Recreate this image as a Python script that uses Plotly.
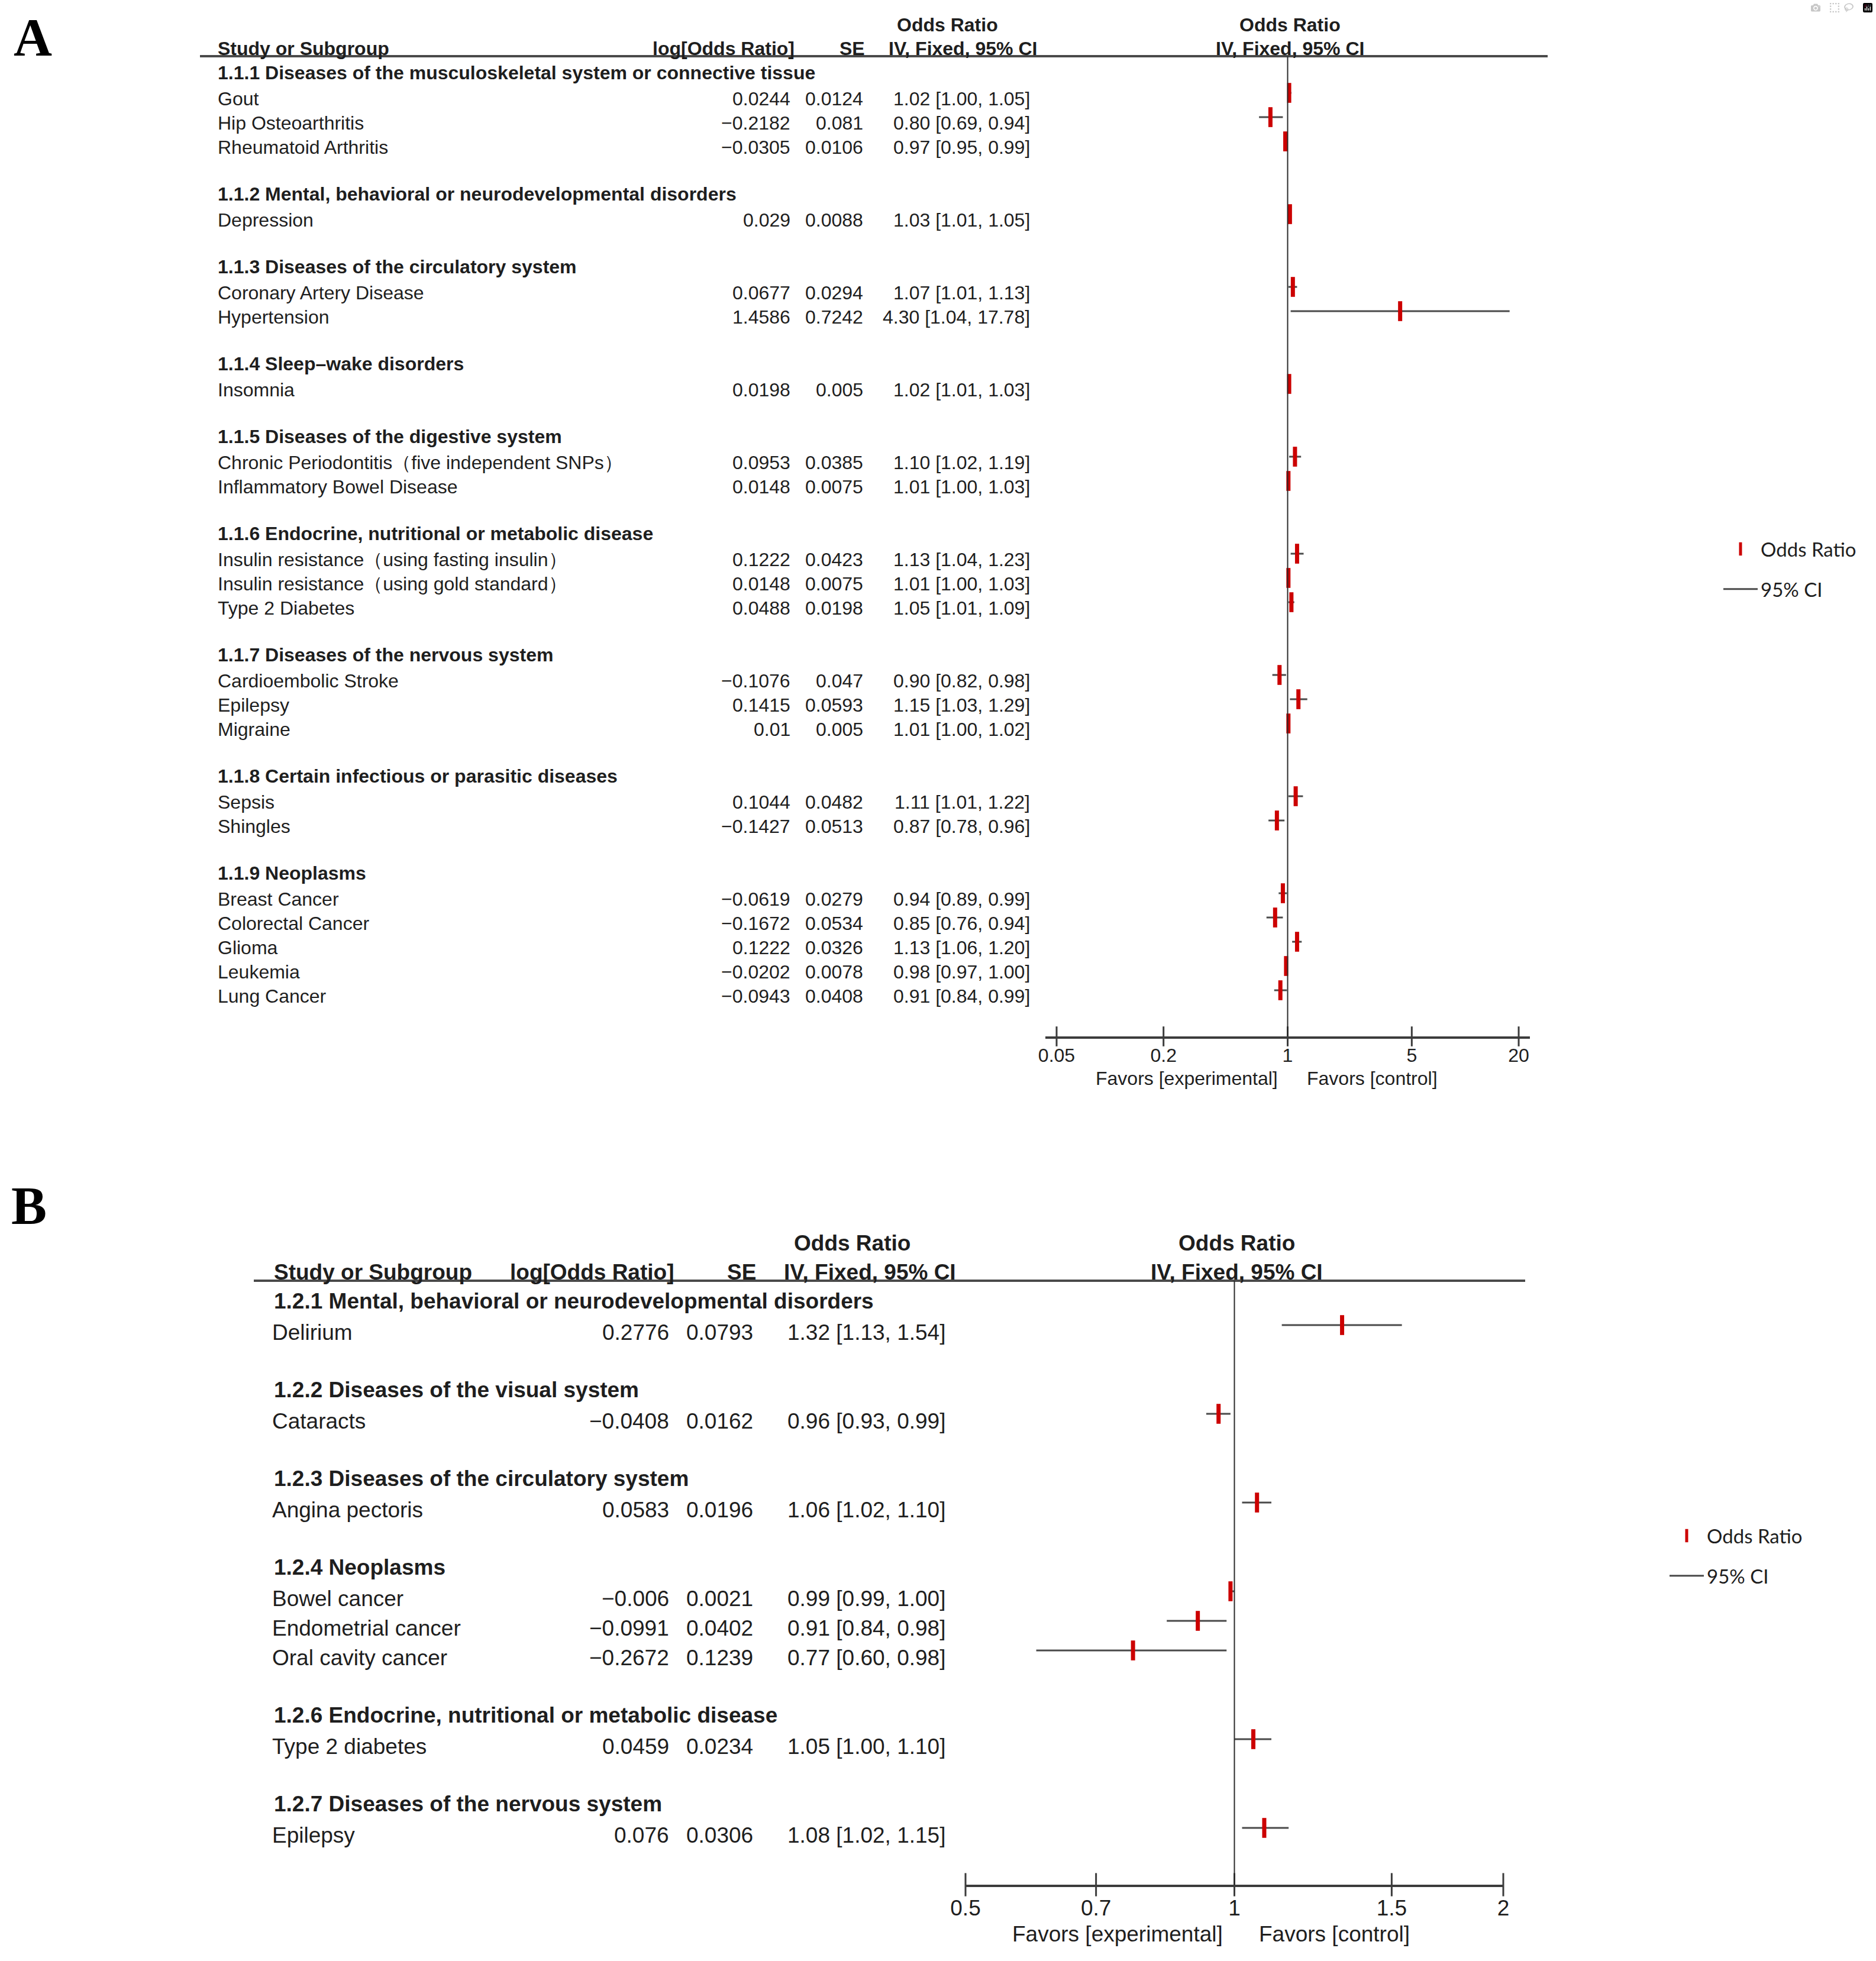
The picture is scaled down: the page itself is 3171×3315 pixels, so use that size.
import math
import plotly.graph_objects as go

# ---------------- Panel A data ----------------
a_groups = [
    "1.1.1 Diseases of the musculoskeletal system or connective tissue",
    "1.1.2 Mental, behavioral or neurodevelopmental disorders",
    "1.1.3 Diseases of the circulatory system",
    "1.1.4 Sleep\u2013wake disorders",
    "1.1.5 Diseases of the digestive system",
    "1.1.6 Endocrine, nutritional or metabolic disease",
    "1.1.7 Diseases of the nervous system",
    "1.1.8 Certain infectious or parasitic diseases",
    "1.1.9 Neoplasms",
]
a_studies = [
    "Gout", "Hip Osteoarthritis", "Rheumatoid Arthritis",
    "Depression",
    "Coronary Artery Disease", "Hypertension",
    "Insomnia",
    "Chronic Periodontitis\uff08five independent SNPs\uff09", "Inflammatory Bowel Disease",
    "Insulin resistance\uff08using fasting insulin\uff09", "Insulin resistance\uff08using gold standard\uff09", "Type 2 Diabetes",
    "Cardioembolic Stroke", "Epilepsy", "Migraine",
    "Sepsis", "Shingles",
    "Breast Cancer", "Colorectal Cancer", "Glioma", "Leukemia", "Lung Cancer",
]
a_study_group = [0, 0, 0, 1, 2, 2, 3, 4, 4, 5, 5, 5, 6, 6, 6, 7, 7, 8, 8, 8, 8, 8]
a_logor = [0.0244, -0.2182, -0.0305, 0.029, 0.0677, 1.4586, 0.0198, 0.0953, 0.0148,
           0.1222, 0.0148, 0.0488, -0.1076, 0.1415, 0.01, 0.1044, -0.1427,
           -0.0619, -0.1672, 0.1222, -0.0202, -0.0943]
a_se = [0.0124, 0.081, 0.0106, 0.0088, 0.0294, 0.7242, 0.005, 0.0385, 0.0075,
        0.0423, 0.0075, 0.0198, 0.047, 0.0593, 0.005, 0.0482, 0.0513,
        0.0279, 0.0534, 0.0326, 0.0078, 0.0408]
a_or = [1.02, 0.80, 0.97, 1.03, 1.07, 4.30, 1.02, 1.10, 1.01, 1.13, 1.01, 1.05,
        0.90, 1.15, 1.01, 1.11, 0.87, 0.94, 0.85, 1.13, 0.98, 0.91]
a_ci_lo = [1.00, 0.69, 0.95, 1.01, 1.01, 1.04, 1.01, 1.02, 1.00, 1.04, 1.00, 1.01,
           0.82, 1.03, 1.00, 1.01, 0.78, 0.89, 0.76, 1.06, 0.97, 0.84]
a_ci_hi = [1.05, 0.94, 0.99, 1.05, 1.13, 17.78, 1.03, 1.19, 1.03, 1.23, 1.03, 1.09,
           0.98, 1.29, 1.02, 1.22, 0.96, 0.99, 0.94, 1.20, 1.00, 0.99]
a_ticks = [0.05, 0.2, 1, 5, 20]
a_tick_labels = ["0.05", "0.2", "1", "5", "20"]

# ---------------- Panel B data ----------------
b_groups = [
    "1.2.1 Mental, behavioral or neurodevelopmental disorders",
    "1.2.2 Diseases of the visual system",
    "1.2.3 Diseases of the circulatory system",
    "1.2.4 Neoplasms",
    "1.2.6 Endocrine, nutritional or metabolic disease",
    "1.2.7 Diseases of the nervous system",
]
b_studies = ["Delirium", "Cataracts", "Angina pectoris", "Bowel cancer",
             "Endometrial cancer", "Oral cavity cancer", "Type 2 diabetes", "Epilepsy"]
b_study_group = [0, 1, 2, 3, 3, 3, 4, 5]
b_logor = [0.2776, -0.0408, 0.0583, -0.006, -0.0991, -0.2672, 0.0459, 0.076]
b_se = [0.0793, 0.0162, 0.0196, 0.0021, 0.0402, 0.1239, 0.0234, 0.0306]
b_or = [1.32, 0.96, 1.06, 0.99, 0.91, 0.77, 1.05, 1.08]
b_ci_lo = [1.13, 0.93, 1.02, 0.99, 0.84, 0.60, 1.00, 1.02]
b_ci_hi = [1.54, 0.99, 1.10, 1.00, 0.98, 0.98, 1.10, 1.15]
b_ticks = [0.5, 0.7, 1, 1.5, 2]
b_tick_labels = ["0.5", "0.7", "1", "1.5", "2"]

# ---------------- layout helpers ----------------
W, H = 3171, 3315
FONT = "Liberation Sans"
TXT = "#1e1e1e"
RED = "#cc0000"
CI_COL = "#4a4a4a"
AX_COL = "#3c3c3c"


def px(x):
    return x / W


def py(y):
    return 1 - y / H


def fmt_num(v):
    return str(v).replace("-", "\u2212")


def build_rows(study_group, ngroups):
    header_rows, study_rows = [], []
    r = 0
    for g in range(ngroups):
        header_rows.append(r)
        r += 1
        for gi in study_group:
            if gi == g:
                study_rows.append(r)
                r += 1
        r += 1
    return header_rows, study_rows


panels = [
    dict(key="A", xa="x", ya="y", xname="xaxis", yname="yaxis", legend="legend",
         groups=a_groups, studies=a_studies, sg=a_study_group, logor=a_logor, se=a_se,
         orv=a_or, lo=a_ci_lo, hi=a_ci_hi, ticks=a_ticks, ticklabels=a_tick_labels,
         row0=116, step=41, top=95, bottom=1752, xdom=(1767, 2586), tickpad=0.0632,
         fs=32, label_x=366, group_x=366, logor_r=1338, se_r=1461, ci_r=1743,
         h_y1=42, h_y2=82, h_or_c=1602, h_log_r=1345, h_se_r=1464, h_iv_c=1627,
         h_right_c=2180, hline=(338, 2616), fav_y=1823, fav_c=(2006, 2319),
         letter=(55, 63), text_shift=-10, head_shift=-7, tick_half=24, ticklen=1,
         marker_size=24, legend_xy=(2908, 900)),
    dict(key="B", xa="x2", ya="y2", xname="xaxis2", yname="yaxis2", legend="legend2",
         groups=b_groups, studies=b_studies, sg=b_study_group, logor=b_logor, se=b_se,
         orv=b_or, lo=b_ci_lo, hi=b_ci_hi, ticks=b_ticks, ticklabels=b_tick_labels,
         row0=2190, step=50, top=2165, bottom=3186, xdom=(1632, 2541), tickpad=0.0,
         fs=37, label_x=458, group_x=461, logor_r=1133, se_r=1275, ci_r=1600,
         h_y1=2101, h_y2=2150, h_or_c=1440, h_log_r=1141, h_se_r=1280, h_iv_c=1470,
         h_right_c=2090, hline=(429, 2578), fav_y=3269, fav_c=(1889, 2255),
         letter=(49, 2038), text_shift=-12, head_shift=-9, tick_half=28, ticklen=4,
         marker_size=24, legend_xy=(2817, 2568)),
]

fig = go.Figure()
annotations = []
shapes = []
layout_axes = {}
legends = {}

for p in panels:
    header_rows, study_rows = build_rows(p["sg"], len(p["groups"]))
    r_top = (p["top"] - p["row0"]) / p["step"]
    r_bot = (p["bottom"] - p["row0"]) / p["step"]
    fs = p["fs"]
    tfont = dict(family=FONT, size=fs, color=TXT)

    # CI lines
    cx, cy = [], []
    for lo, hi, r in zip(p["lo"], p["hi"], study_rows):
        cx += [lo, hi, None]
        cy += [r, r, None]
    fig.add_trace(go.Scatter(
        x=cx, y=cy, mode="lines", xaxis=p["xa"], yaxis=p["ya"],
        line=dict(color=CI_COL, width=3), name="95% CI",
        legend=p["legend"], legendgroup="ci" + p["key"], legendrank=2,
        hoverinfo="skip"))
    # point estimates
    fig.add_trace(go.Scatter(
        x=p["orv"], y=study_rows, mode="markers", xaxis=p["xa"], yaxis=p["ya"],
        marker=dict(symbol="line-ns", size=p["marker_size"],
                    line=dict(color=RED, width=7)),
        name="Odds Ratio", legend=p["legend"], legendgroup="or" + p["key"],
        legendrank=1))
    # tick marks crossing the axis line
    fig.add_trace(go.Scatter(
        x=p["ticks"], y=[r_bot] * len(p["ticks"]), mode="markers",
        xaxis=p["xa"], yaxis=p["ya"], cliponaxis=False, showlegend=False,
        hoverinfo="skip",
        marker=dict(symbol="line-ns", size=p["tick_half"],
                    line=dict(color=AX_COL, width=3))))

    lo_log = math.log10(min(p["ticks"])) - p["tickpad"]
    hi_log = math.log10(max(p["ticks"])) + p["tickpad"]
    layout_axes[p["xname"]] = dict(
        type="log", range=[lo_log, hi_log],
        domain=[px(p["xdom"][0]), px(p["xdom"][1])],
        anchor=p["ya"], showgrid=False, zeroline=False,
        showline=True, linecolor=AX_COL, linewidth=4,
        tickvals=p["ticks"], ticktext=p["ticklabels"],
        ticks="outside", ticklen=p["ticklen"], tickcolor="rgba(0,0,0,0)",
        tickfont=dict(family=FONT, size=fs, color=TXT), fixedrange=True,
        automargin=False)
    layout_axes[p["yname"]] = dict(
        range=[r_bot, r_top], domain=[py(p["bottom"]), py(p["top"])],
        anchor=p["xa"], visible=False, fixedrange=True, automargin=False)

    yref = p["ya"]
    # group headers
    for g, r in zip(p["groups"], header_rows):
        annotations.append(dict(
            text="<b>" + g + "</b>", x=px(p["group_x"]), y=r, xref="paper", yref=yref,
            xanchor="left", yanchor="middle", yshift=p["head_shift"],
            showarrow=False, font=tfont))
    # study rows
    for name, lg, se, o, lo, hi, r in zip(p["studies"], p["logor"], p["se"], p["orv"],
                                          p["lo"], p["hi"], study_rows):
        common = dict(y=r, xref="paper", yref=yref, yanchor="middle",
                      yshift=p["text_shift"], showarrow=False, font=tfont)
        annotations.append(dict(text=name, x=px(p["label_x"]), xanchor="left", **common))
        annotations.append(dict(text=fmt_num(lg), x=px(p["logor_r"]), xanchor="right", **common))
        annotations.append(dict(text=fmt_num(se), x=px(p["se_r"]), xanchor="right", **common))
        annotations.append(dict(text=f"{o:.2f} [{lo:.2f}, {hi:.2f}]", x=px(p["ci_r"]),
                                xanchor="right", **common))

    # column headers
    def hdr(text, x, y, anchor):
        annotations.append(dict(text="<b>" + text + "</b>", x=px(x), y=py(y), xref="paper",
                                yref="paper", xanchor=anchor, yanchor="middle",
                                showarrow=False, font=tfont))

    hdr("Odds Ratio", p["h_or_c"], p["h_y1"], "center")
    hdr("Study or Subgroup", p["label_x"] if p["key"] == "A" else p["group_x"], p["h_y2"], "left")
    hdr("log[Odds Ratio]", p["h_log_r"], p["h_y2"], "right")
    hdr("SE", p["h_se_r"], p["h_y2"], "right")
    hdr("IV, Fixed, 95% CI", p["h_iv_c"], p["h_y2"], "center")
    hdr("Odds Ratio", p["h_right_c"], p["h_y1"], "center")
    hdr("IV, Fixed, 95% CI", p["h_right_c"], p["h_y2"], "center")

    # favours labels
    for text, xc in zip(["Favors [experimental]", "Favors [control]"], p["fav_c"]):
        annotations.append(dict(text=text, x=px(xc), y=py(p["fav_y"]), xref="paper",
                                yref="paper", xanchor="center", yanchor="middle",
                                showarrow=False, font=tfont))
    # panel letter
    annotations.append(dict(text="<b>" + p["key"] + "</b>", x=px(p["letter"][0]),
                            y=py(p["letter"][1]), xref="paper", yref="paper",
                            xanchor="center", yanchor="middle", showarrow=False,
                            font=dict(family="Liberation Serif", size=90, color="#000000")))

    # header rule and null line
    shapes.append(dict(type="line", xref="paper", yref="paper",
                       x0=px(p["hline"][0]), x1=px(p["hline"][1]),
                       y0=py(p["top"]), y1=py(p["top"]),
                       line=dict(color="#4a4a4a", width=4)))
    shapes.append(dict(type="line", xref=p["xa"], yref=p["ya"] + " domain",
                       x0=1, x1=1, y0=0, y1=1, line=dict(color="#2a2a2a", width=2)))

    legends[p["legend"]] = dict(
        x=px(p["legend_xy"][0]), y=py(p["legend_xy"][1]), xanchor="left", yanchor="top",
        bgcolor="rgba(0,0,0,0)", font=dict(family="Lato", size=33, color=TXT),
        traceorder="grouped", tracegroupgap=22, itemclick=False, itemdoubleclick=False,
        itemwidth=58)

fig.update_layout(
    width=W, height=H, margin=dict(l=0, r=0, t=0, b=0, pad=0, autoexpand=False),
    paper_bgcolor="white", plot_bgcolor="white",
    showlegend=True, annotations=annotations, shapes=shapes,
    **layout_axes, **legends)

fig.write_html("out.html", post_script="document.body.style.margin='0px';")
